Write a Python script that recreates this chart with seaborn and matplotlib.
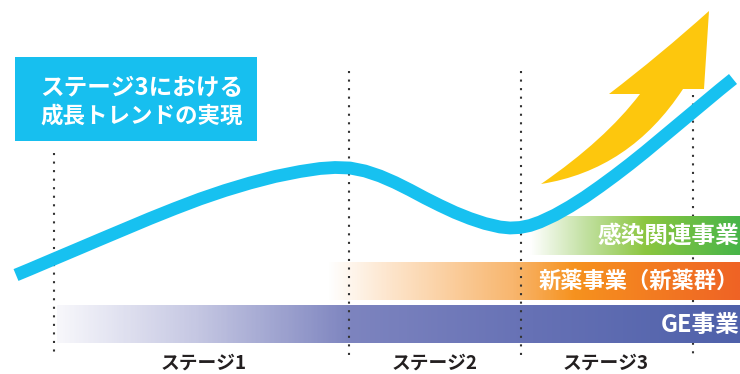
import numpy as np
import matplotlib
matplotlib.use("Agg")
import matplotlib.pyplot as plt
from matplotlib.colors import LinearSegmentedColormap
from matplotlib.patches import Rectangle, PathPatch
from matplotlib.path import Path
import seaborn as sns

sns.set_style("white")
plt.rcParams["font.family"] = ["Noto Sans CJK JP", "DejaVu Sans"]

# Growth trend curve (canvas pixel coordinates, y downwards)
trend_x = [16, 30, 54, 80, 100, 125, 150, 175, 200, 225, 250, 275, 300,
           320, 335, 350, 365, 380, 395, 410, 425, 440, 455, 470, 485,
           500, 510, 520, 530, 540, 555, 570, 585, 600, 615, 630, 645,
           660, 675, 690, 705, 720, 733]
trend_y = [275, 269.2, 259, 248, 239.5, 229, 218.5, 208.5, 199, 190.5,
           183, 176.5, 171.5, 168.5, 167.5, 168, 171, 176, 182.5, 190,
           198, 205.5, 212.5, 218.5, 223.5, 227, 228, 227.5, 225.5, 222,
           215, 206.5, 197, 186.5, 175.5, 164, 152, 139.5, 127, 114.5,
           102, 89.5, 79]

# Stage boundaries and labels
stage_bounds = [54, 349, 521, 693]
stage_names = ["ステージ1", "ステージ2", "ステージ3"]

# Business bands
band_labels = ["感染関連事業", "新薬事業（新薬群）", "GE事業"]
band_start = [530, 327, 57]
band_end = [740, 740, 740]

headline = ["ステージ3における", "成長トレンドの実現"]

W, H = 740, 374
fig = plt.figure(figsize=(W / 100, H / 100), dpi=100)
ax = fig.add_axes([0, 0, 1, 1])
ax.set_axis_off()

# Gradient bands
band_rows = [(216, 255), (262, 300), (305, 343)]
band_stops = [
    [(0.0, "#ffffff"), (0.25, "#c5e2a6"), (0.55, "#8cc640"), (1.0, "#47b549")],
    [(0.0, "#ffffff"), (0.15, "#fde5cc"), (0.45, "#f8b66e"), (0.6, "#f6921e"), (1.0, "#ef6325")],
    [(0.0, "#f7f7fb"), (0.2, "#c6c8e3"), (0.43, "#7d84bf"), (0.7, "#6671b5"), (1.0, "#4f61aa")],
]
grad = np.linspace(0, 1, 400).reshape(1, -1)
for (y0, y1), x0, x1, stops in zip(band_rows, band_start, band_end, band_stops):
    cmap = LinearSegmentedColormap.from_list("band", stops)
    ax.imshow(grad, cmap=cmap, extent=[x0, x1, y1, y0], aspect="auto",
              interpolation="bilinear", zorder=2)

label_size = [17, 16, 17]
for (y0, y1), lab, fs in zip(band_rows, band_labels, label_size):
    ax.text(739, (y0 + y1) / 2 + 0.5, lab, color="white", fontsize=fs,
            fontweight="bold", ha="right", va="center", zorder=5)

# Dotted stage boundaries
dot_top = [153, 71, 71, 95]
for i, (xb, yt) in enumerate(zip(stage_bounds, dot_top)):
    ax.vlines(xb, yt, 358, colors="#333333", linewidth=1.5,
              linestyles=(0, (1, 3.1)), zorder=3 if i < 3 else 1)

for i, name in enumerate(stage_names):
    cx = [204, 435, 606][i]
    ax.text(cx, 363, name, color="#231f20", fontsize=13.5, fontweight="bold",
            ha="center", va="center", zorder=5)

# Headline box
ax.add_patch(Rectangle((15, 57), 242, 84, facecolor="#17bfef",
                       edgecolor="none", zorder=4))
ax.text(40, 88, headline[0], color="white", fontsize=17, fontweight="bold",
        ha="left", va="center", zorder=5)
ax.text(40, 116, headline[1], color="white", fontsize=16.2, fontweight="bold",
        ha="left", va="center", zorder=5)

# Trend curve
sns.lineplot(x=trend_x, y=trend_y, ax=ax, color="#17c1f0", linewidth=9.2,
             solid_capstyle="butt", solid_joinstyle="round", zorder=6,
             sort=False)

# Rising arrow
verts = [(541, 184), (630, 170), (683, 89), (704, 89), (709, 11),
         (660, 55), (609, 94), (640, 94), (605, 140), (541, 184), (541, 184)]
codes = [Path.MOVETO, Path.CURVE3, Path.CURVE3, Path.LINETO, Path.LINETO,
         Path.CURVE3, Path.CURVE3, Path.LINETO, Path.CURVE3, Path.CURVE3,
         Path.CLOSEPOLY]
ax.add_patch(PathPatch(Path(verts, codes), facecolor="#fdc70d",
                       edgecolor="none", zorder=6))

ax.set_xlim(0, W)
ax.set_ylim(H, 0)
fig.savefig("out.png", dpi=100)
